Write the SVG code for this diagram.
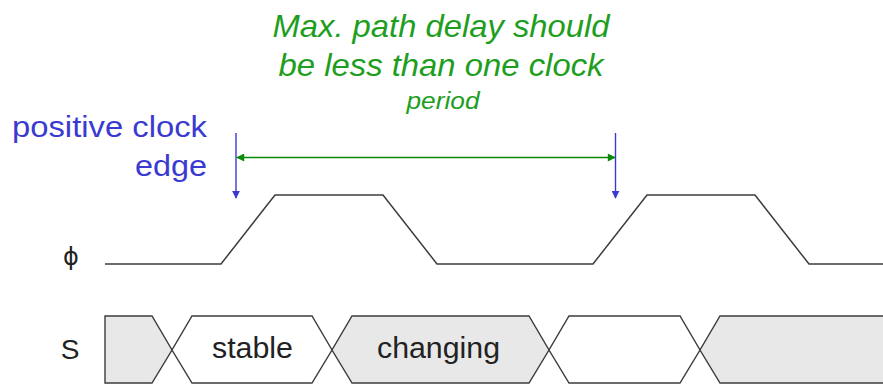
<svg xmlns="http://www.w3.org/2000/svg" width="883" height="384" viewBox="0 0 883 384">
  <defs>
    <marker id="blueHead" viewBox="0 0 10 10" refX="9" refY="5" markerWidth="8" markerHeight="8" markerUnits="userSpaceOnUse" orient="auto">
      <path d="M0,0 L10,5 L0,10 Z" fill="#3a3ad0"/>
    </marker>
    <marker id="greenHead" viewBox="0 0 10 10" refX="9" refY="5" markerWidth="9" markerHeight="8" markerUnits="userSpaceOnUse" orient="auto-start-reverse">
      <path d="M0,0 L10,5 L0,10 Z" fill="#0a8a0a"/>
    </marker>
  </defs>
  <style>
    .wave { fill: none; stroke: #3c3c3c; stroke-width: 1.5; stroke-linejoin: miter; }
    .bus-g { fill: #e8e8e8; stroke: #3c3c3c; stroke-width: 1.4; }
    .bus-w { fill: #ffffff; stroke: #3c3c3c; stroke-width: 1.4; }
    .sig { font-family: "Liberation Sans", Arial, sans-serif; fill: #222; }
    .note { font-family: "Liberation Sans", Arial, sans-serif; font-style: italic; fill: #1e9e1e; text-anchor: middle; }
    .edge-label { font-family: "Liberation Sans", Arial, sans-serif; fill: #3a3ad0; text-anchor: end; }
    .edge-arrow { stroke: #3a3ad0; stroke-width: 1.4; fill: none; }
    .span { stroke: #0a8a0a; stroke-width: 1.6; fill: none; }
  </style>

  <rect width="883" height="384" fill="#ffffff"/>

  <!-- annotation text -->
  <g id="delay-note">
    <text class="note" x="441" y="37" font-size="32" textLength="337" lengthAdjust="spacingAndGlyphs">Max. path delay should</text>
    <text class="note" x="441" y="76" font-size="32" textLength="325" lengthAdjust="spacingAndGlyphs">be less than one clock</text>
    <text class="note" x="443" y="109" font-size="24" textLength="73" lengthAdjust="spacingAndGlyphs">period</text>
  </g>

  <g id="edge-note">
    <text class="edge-label" x="207" y="137" font-size="30" textLength="195" lengthAdjust="spacingAndGlyphs">positive clock</text>
    <text class="edge-label" x="207" y="176" font-size="30" textLength="72" lengthAdjust="spacingAndGlyphs">edge</text>
  </g>

  <!-- signal names -->
  <g id="label-phi">
    <text x="71" y="265" font-size="24" text-anchor="middle" fill="#222" font-family="'DejaVu Sans', sans-serif">ϕ</text>
  </g>
  <g id="label-s">
    <text class="sig" x="70" y="359" font-size="28" text-anchor="middle">S</text>
  </g>

  <!-- clock waveform -->
  <g id="clock">
    <polyline class="wave" points="105,264 221,264 275,195 383,195 437,264 593,264 647,195 755,195 809,264 883,264"/>
  </g>

  <!-- data bus S -->
  <g id="bus-s">
    <polygon class="bus-g" points="105,316 152,316 172,350 152,383 105,383"/>
    <polygon class="bus-w" points="192,316 312,316 332,350 312,383 192,383 172,350"/>
    <polygon class="bus-g" points="352,316 529,316 549,350 529,383 352,383 332,350"/>
    <polygon class="bus-w" points="569,316 680,316 700,350 680,383 569,383 549,350"/>
    <polygon class="bus-g" points="720,316 890,316 890,383 720,383 700,350"/>
    <text class="sig" x="252.5" y="358" font-size="29" text-anchor="middle" textLength="81" lengthAdjust="spacingAndGlyphs">stable</text>
    <text class="sig" x="438.5" y="358" font-size="29" text-anchor="middle" textLength="123" lengthAdjust="spacingAndGlyphs">changing</text>
  </g>

  <!-- connectors -->
  <g id="connectors">
    <line class="edge-arrow" x1="236" y1="133" x2="236" y2="198" marker-end="url(#blueHead)"/>
    <line class="edge-arrow" x1="615.5" y1="133" x2="615.5" y2="198" marker-end="url(#blueHead)"/>
    <line class="span" x1="237" y1="157.5" x2="615" y2="157.5" marker-start="url(#greenHead)" marker-end="url(#greenHead)"/>
  </g>
</svg>
